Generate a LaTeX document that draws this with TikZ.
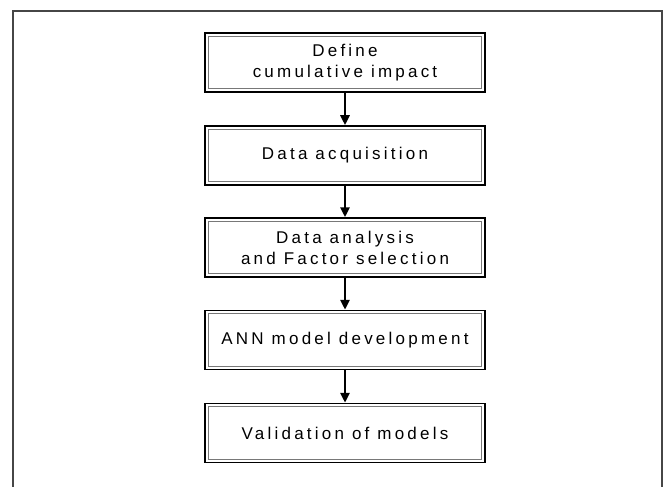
\documentclass[tikz,border=0pt]{standalone}
\usepackage{fontspec}
\setmainfont{Liberation Sans}[LetterSpace=19]
\usetikzlibrary{arrows.meta}
\definecolor{framegray}{RGB}{70,70,70}
\definecolor{innergray}{RGB}{120,120,120}
\tikzset{
    lab/.style={
        font=\fontsize{17}{21}\selectfont
    }
}

\begin{document}
\begin{tikzpicture}[x=1pt,y=-1pt, line cap=butt, line join=miter]

\useasboundingbox (0,0) rectangle (670,487);

\tikzset{
  frame/.style={draw=framegray, line width=1.1pt},
  stepbox/.style={lab, draw=black, line width=1.5pt, fill=white,
    minimum width=280pt, minimum height=59pt, inner sep=0pt, align=center,
    path picture={\draw[innergray, line width=0.8pt]
      ([shift={(3.2pt,-3.2pt)}]path picture bounding box.north west) rectangle
      ([shift={(-3.2pt,3.2pt)}]path picture bounding box.south east);}},
  flow/.style={draw=black, line width=2.6pt, -{Triangle[length=10pt,width=9pt]}},
}

% background
\coordinate (FL) at (13,487);
\coordinate (FTL) at (13,11);
\coordinate (FTR) at (662,11);
\coordinate (FR) at (662,487);
\draw[frame] (FL) -- (FTL) -- (FTR) -- (FR);

% nodes
\node[stepbox] (define)   at (345,62.5)  {Define\\cumulative impact};
\node[stepbox] (acquire)  at (345,155.5) {Data acquisition};
\node[stepbox] (analyse)  at (345,247.5) {Data analysis\\and Factor selection};
\node[stepbox] (ann)      at (345,340)   {ANN model development};
\node[stepbox] (validate) at (345,433)   {Validation of models};

% arrows
\draw[flow] (define) -- (acquire);
\draw[flow] (acquire) -- (analyse);
\draw[flow] (analyse) -- (ann);
\draw[flow] (ann) -- (validate);

\end{tikzpicture}
\end{document}
